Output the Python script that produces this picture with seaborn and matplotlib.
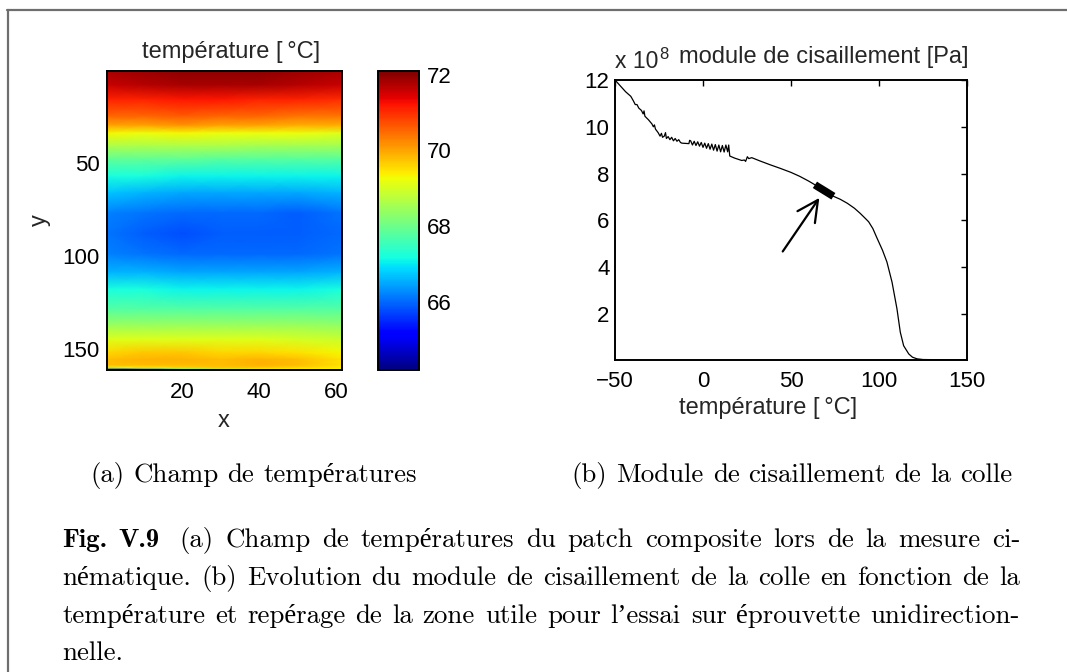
import numpy as np
import matplotlib
matplotlib.use("Agg")
import matplotlib.pyplot as plt
import seaborn as sns
from matplotlib.lines import Line2D

# ---------------- data : temperature field (left panel) ----------------
field_x = [0.5, 10, 20, 30, 40, 50, 61.5]
field_y = [0.5, 8, 16, 25, 30, 34, 41, 48, 57, 66, 77, 88, 99, 109, 118,
           129, 138, 145, 152, 156, 159, 160.3, 161.5]
field_T = [
    [71.8, 71.9, 72.0, 72.0, 72.0, 71.9, 71.8],
    [71.6, 71.7, 71.8, 71.8, 71.8, 71.7, 71.6],
    [71.1, 71.1, 71.2, 71.2, 71.1, 71.1, 71.0],
    [70.5, 70.5, 70.6, 70.5, 70.5, 70.4, 70.4],
    [70.0, 70.0, 70.1, 70.0, 70.0, 69.9, 69.9],
    [69.3, 69.2, 69.3, 69.2, 69.2, 69.2, 69.1],
    [68.6, 68.6, 68.6, 68.6, 68.5, 68.5, 68.5],
    [67.9, 67.9, 67.9, 67.8, 67.8, 67.8, 67.8],
    [67.2, 67.2, 67.1, 67.1, 67.1, 67.1, 67.1],
    [66.7, 66.6, 66.5, 66.5, 66.5, 66.5, 66.6],
    [66.2, 66.1, 66.0, 66.0, 66.0, 65.9, 66.1],
    [66.1, 65.9, 65.8, 65.9, 65.9, 65.9, 66.0],
    [66.2, 66.1, 66.0, 66.0, 66.0, 66.0, 66.1],
    [66.6, 66.6, 66.5, 66.5, 66.5, 66.5, 66.6],
    [67.2, 67.2, 67.1, 67.1, 67.1, 67.1, 67.2],
    [67.8, 67.8, 67.8, 67.8, 67.8, 67.8, 67.8],
    [68.5, 68.5, 68.5, 68.5, 68.5, 68.5, 68.4],
    [69.1, 69.1, 69.1, 69.1, 69.1, 69.0, 68.9],
    [69.6, 69.7, 69.7, 69.6, 69.6, 69.5, 69.3],
    [69.8, 69.9, 69.9, 69.8, 69.9, 69.8, 69.5],
    [69.8, 69.8, 69.8, 69.8, 69.9, 69.8, 69.5],
    [69.0, 69.4, 69.6, 69.7, 69.7, 69.6, 69.4],
    [64.6, 65.9, 67.4, 68.4, 69.0, 69.3, 69.3],
]
T_min, T_max = 64.2, 72.1
cbar_ticks = [66, 68, 70, 72]
field_xticks = [20, 40, 60]
field_yticks = [50, 100, 150]

# ---------------- data : shear modulus of the glue (right panel) ----------------
temp_C = [-50, -47, -44, -41, -39.5, -38.5, -37.5, -36.5, -35, -34, -33.5, -33,
          -31, -29, -28.2, -27.6, -27, -25.5, -24.4, -23.6, -23,
          -22, -21.3, -20.8, -19.8, -18.8, -17.8, -16.8, -15.8, -14.8, -13.8, -12.8,
          -12, -8, -7.6, -7, -6, -5, -4, -3, -2, -1, 0, 1, 2, 3, 4, 5, 6, 7, 8, 9,
          10, 11, 12, 13, 14, 14.6, 15.2, 18, 22, 23.5, 24.2, 25.2, 26, 27.7, 32,
          38, 44, 50, 55, 60, 63.6, 65, 70, 73, 74.1, 78, 82, 86, 89.3, 92, 94.1,
          96.5, 99, 102, 104.5, 107.4, 110.2, 112.1, 114, 116.9, 119, 121.6, 125,
          135, 150]
G_1e8 = [12.0, 11.75, 11.5, 11.3, 11.1, 10.95, 10.95, 10.8, 10.7, 10.55, 10.68, 10.45,
         10.3, 10.12, 10.0, 10.08, 9.9, 9.75, 9.6, 9.72, 9.55,
         9.6, 9.75, 9.5, 9.58, 9.45, 9.55, 9.4, 9.5, 9.38, 9.45, 9.33,
         9.3, 9.28, 9.42, 9.4, 9.22, 9.38, 9.2, 9.36, 9.17, 9.33, 9.12, 9.3, 9.08,
         9.28, 9.04, 9.26, 9.0, 9.24, 8.96, 9.22,
         8.93, 9.2, 8.92, 9.22, 8.93, 9.22, 8.75, 8.66, 8.56, 8.58, 8.52, 8.72, 8.64,
         8.68, 8.55,
         8.38, 8.22, 8.05, 7.88, 7.68, 7.52, 7.45, 7.22, 7.08, 7.03, 6.9, 6.73, 6.52,
         6.3, 6.1, 5.94,
         5.65, 5.22, 4.72, 4.22, 3.36, 2.22, 1.22, 0.64, 0.29, 0.15, 0.08, 0.05,
         0.04, 0.03]
zone_lo, zone_hi = 63.5, 74.5          # useful temperature range of the test
arrow_tail = (45.3, 4.67)
arrow_head = (66.1, 6.96)
mod_xticks = [-50, 0, 50, 100, 150]
mod_yticks = [2, 4, 6, 8, 10, 12]

# ---------------- texts ----------------
sub_a = "(a) Champ de températures"
sub_b = "(b) Module de cisaillement de la colle"
cap_label = ["Fig.", "V.9"]
cap_lines = [
    "(a) Champ de températures du patch composite lors de la mesure ci-",
    "nématique. (b) Evolution du module de cisaillement de la colle en fonction de la",
    "température et repérage de la zone utile pour l\u2019essai sur éprouvette unidirection-",
    "nelle.",
]

# ---------------- figure ----------------
sns.set_theme(style="white")
plt.rcParams["font.family"] = ["Liberation Sans", "DejaVu Sans"]
plt.rcParams["axes.edgecolor"] = "black"
plt.rcParams["axes.linewidth"] = 1.4
plt.rcParams["xtick.color"] = "black"
plt.rcParams["ytick.color"] = "black"

W, H = 1067, 672
fig = plt.figure(figsize=(W / 100, H / 100), dpi=100)
fig.patch.set_facecolor("white")


def fx(px):
    return px / W


def fy(py):
    return 1 - py / H


def box(l, t, r, b):
    return [fx(l), fy(b), (r - l) / W, (b - t) / H]


ax1 = fig.add_axes(box(107, 71, 342, 370))
cax = fig.add_axes(box(378, 71, 419, 370))
ax2 = fig.add_axes(box(615, 80, 967, 360))

# --- left : temperature field
X, Y = np.meshgrid(field_x, field_y)
mesh = ax1.pcolormesh(X, Y, np.array(field_T), cmap="jet", vmin=T_min, vmax=T_max,
                      shading="gouraud", rasterized=True)
ax1.set_xlim(0.5, 61.5)
ax1.set_ylim(161.5, 0.5)
ax1.set_xticks(field_xticks)
ax1.set_yticks(field_yticks)
ax1.tick_params(direction="in", length=4.5, width=1.0, top=True, right=True,
                labelsize=16, colors="black")
ax1.tick_params(axis="x", pad=9)
ax1.tick_params(axis="y", pad=5.5)

cb = fig.colorbar(mesh, cax=cax)
cb.set_ticks(cbar_ticks)
cb.outline.set_linewidth(1.4)
cax.tick_params(direction="in", length=4.5, width=1.0, left=True, right=True,
                labelleft=False, labelright=True, labelsize=16, pad=5.5, colors="black")

fig.text(fx(231), fy(52), "température [\u2009°C]", ha="center", va="center", fontsize=17)
fig.text(fx(40), fy(220), "y", ha="center", va="center", rotation=90, fontsize=17)
fig.text(fx(224), fy(421), "x", ha="center", va="center", fontsize=17)

# --- right : shear modulus
sns.lineplot(x=temp_C, y=G_1e8, ax=ax2, color="black", linewidth=0.9,
             estimator=None, sort=False, legend=False)
T_arr = np.array(temp_C)
G_arr = np.array(G_1e8)
zone = (T_arr >= zone_lo) & (T_arr <= zone_hi)
sns.lineplot(x=T_arr[zone], y=G_arr[zone], ax=ax2, color="black", linewidth=5.5,
             estimator=None, sort=False, legend=False, solid_capstyle="butt")
ax2.annotate("", xy=arrow_head, xytext=arrow_tail,
             arrowprops=dict(arrowstyle="->,head_length=0.75,head_width=0.38",
                             lw=1.6, color="black", mutation_scale=20,
                             shrinkA=0, shrinkB=0))
ax2.set_xlim(-50, 150)
ax2.set_ylim(0.03, 12.0)
ax2.set_xticks(mod_xticks)
ax2.set_yticks(mod_yticks)
ax2.set_xlabel("")
ax2.set_ylabel("")
ax2.tick_params(direction="in", length=4.5, width=1.0, top=True, right=True,
                labelsize=16, colors="black")
ax2.tick_params(axis="x", pad=8)
ax2.tick_params(axis="y", pad=4)

fig.text(fx(615), fy(68), "x 10", ha="left", va="baseline", fontsize=16.5)
fig.text(fx(659), fy(59), "8", ha="left", va="baseline", fontsize=12)
fig.text(fx(824), fy(57), "module de cisaillement [Pa]", ha="center", va="center", fontsize=17)
fig.text(fx(768), fy(408), "température [\u2009°C]", ha="center", va="center", fontsize=17)

# --- frame of the figure
fig.add_artist(Line2D([fx(7.5), fx(7.5)], [fy(10), 0], transform=fig.transFigure,
                      color="#6e6e6e", lw=1.6))
fig.add_artist(Line2D([fx(7), 1], [fy(10), fy(10)], transform=fig.transFigure,
                      color="#6e6e6e", lw=1.6))

# --- captions (Computer Modern, justified like LaTeX)
fig.canvas.draw()
renderer = fig.canvas.get_renderer()
REG = ["cmr10", "Liberation Serif"]
BOLD = ["cmb10", "Liberation Serif"]


def word_width(word, fam, size):
    t = fig.text(0, 0, word, family=fam, fontsize=size)
    w = t.get_window_extent(renderer).width
    t.remove()
    return w


# font size chosen so that a caption line fills the text width naturally
ref_size = 10.0
ref_words = cap_lines[2].split()
nat = sum(word_width(w, REG, ref_size) for w in ref_words) + \
    (len(ref_words) - 1) * 0.333 * ref_size * 100 / 72
CAP_SIZE = ref_size * 950 / nat
SPACE = 0.333 * CAP_SIZE * 100 / 72
X_L, X_R = 62, 1020


def draw_tokens(tokens, x_left, y_base, x_right=None):
    """tokens : list of (word, family, extra_gap_px_after)"""
    widths = [word_width(w, f, CAP_SIZE) for w, f, _ in tokens]
    extra = sum(e for _, _, e in tokens[:-1])
    if x_right is None or len(tokens) < 2:
        gap = SPACE
    else:
        gap = (x_right - x_left - sum(widths) - extra) / (len(tokens) - 1)
    x = x_left
    for (w, f, e), wd in zip(tokens, widths):
        fig.text(fx(x), fy(y_base), w, family=f, fontsize=CAP_SIZE,
                 ha="left", va="baseline", color="black")
        x += wd + gap + e
    return x


def natural_width(words, fam):
    return sum(word_width(w, fam, CAP_SIZE) for w in words) + SPACE * (len(words) - 1)


# sub-captions
wa = sub_a.split()
draw_tokens([(w, REG, 0) for w in wa], 90, 482)
wb = sub_b.split()
draw_tokens([(w, REG, 0) for w in wb], 792 - natural_width(wb, REG) / 2, 482)

# main caption
line_y = [547, 585, 623, 660]
toks = [(cap_label[0], BOLD, 0), (cap_label[1], BOLD, SPACE * 0.9)]
toks += [(w, REG, 0) for w in cap_lines[0].split()]
draw_tokens(toks, X_L, line_y[0], X_R)
draw_tokens([(w, REG, 0) for w in cap_lines[1].split()], X_L, line_y[1], X_R)
draw_tokens([(w, REG, 0) for w in cap_lines[2].split()], X_L, line_y[2], X_R)
draw_tokens([(w, REG, 0) for w in cap_lines[3].split()], X_L, line_y[3])

fig.savefig("out.png", dpi=100, facecolor="white")
